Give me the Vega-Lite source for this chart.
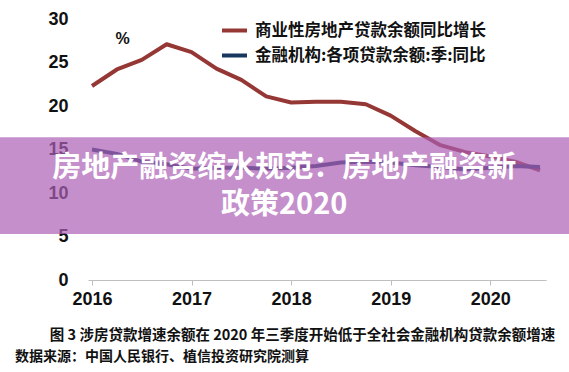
{
  "$schema": "https://vega.github.io/schema/vega-lite/v6.json",
  "width": 458,
  "height": 261,
  "autosize": {"type": "none"},
  "padding": {"left": 88, "top": 19, "right": 23, "bottom": 92},
  "background": "white",
  "config": {"view": {"stroke": null}, "font": "Liberation Sans"},
  "title": {
    "text": "数据来源：中国人民银行、植信投资研究院测算",
    "orient": "bottom",
    "anchor": "start",
    "frame": "group",
    "dx": -73,
    "offset": 8,
    "font": "Noto Sans CJK SC",
    "fontSize": 14,
    "fontWeight": "bold",
    "color": "#111111"
  },
  "layer": [
    {
      "data": {
        "values": [
          {"t": 2016.0, "s": "商业性房地产贷款余额同比增长", "v": 22.3},
          {"t": 2016.25, "s": "商业性房地产贷款余额同比增长", "v": 24.2},
          {"t": 2016.5, "s": "商业性房地产贷款余额同比增长", "v": 25.3},
          {"t": 2016.75, "s": "商业性房地产贷款余额同比增长", "v": 27.1},
          {"t": 2017.0, "s": "商业性房地产贷款余额同比增长", "v": 26.2},
          {"t": 2017.25, "s": "商业性房地产贷款余额同比增长", "v": 24.3},
          {"t": 2017.5, "s": "商业性房地产贷款余额同比增长", "v": 23.0},
          {"t": 2017.75, "s": "商业性房地产贷款余额同比增长", "v": 21.1},
          {"t": 2018.0, "s": "商业性房地产贷款余额同比增长", "v": 20.4},
          {"t": 2018.25, "s": "商业性房地产贷款余额同比增长", "v": 20.5},
          {"t": 2018.5, "s": "商业性房地产贷款余额同比增长", "v": 20.5},
          {"t": 2018.75, "s": "商业性房地产贷款余额同比增长", "v": 20.2},
          {"t": 2019.0, "s": "商业性房地产贷款余额同比增长", "v": 18.9},
          {"t": 2019.25, "s": "商业性房地产贷款余额同比增长", "v": 17.1},
          {"t": 2019.5, "s": "商业性房地产贷款余额同比增长", "v": 15.5},
          {"t": 2019.75, "s": "商业性房地产贷款余额同比增长", "v": 14.7},
          {"t": 2020.0, "s": "商业性房地产贷款余额同比增长", "v": 14.2},
          {"t": 2020.25, "s": "商业性房地产贷款余额同比增长", "v": 13.6},
          {"t": 2020.5, "s": "商业性房地产贷款余额同比增长", "v": 12.6},
          {"t": 2016.0, "s": "金融机构:各项贷款余额:季:同比", "v": 15.0},
          {"t": 2016.25, "s": "金融机构:各项贷款余额:季:同比", "v": 14.5},
          {"t": 2016.5, "s": "金融机构:各项贷款余额:季:同比", "v": 13.6},
          {"t": 2016.75, "s": "金融机构:各项贷款余额:季:同比", "v": 13.3},
          {"t": 2017.0, "s": "金融机构:各项贷款余额:季:同比", "v": 12.8},
          {"t": 2017.25, "s": "金融机构:各项贷款余额:季:同比", "v": 12.9},
          {"t": 2017.5, "s": "金融机构:各项贷款余额:季:同比", "v": 12.9},
          {"t": 2017.75, "s": "金融机构:各项贷款余额:季:同比", "v": 12.8},
          {"t": 2018.0, "s": "金融机构:各项贷款余额:季:同比", "v": 12.9},
          {"t": 2018.25, "s": "金融机构:各项贷款余额:季:同比", "v": 13.1},
          {"t": 2018.5, "s": "金融机构:各项贷款余额:季:同比", "v": 13.5},
          {"t": 2018.75, "s": "金融机构:各项贷款余额:季:同比", "v": 13.6},
          {"t": 2019.0, "s": "金融机构:各项贷款余额:季:同比", "v": 13.5},
          {"t": 2019.25, "s": "金融机构:各项贷款余额:季:同比", "v": 13.2},
          {"t": 2019.5, "s": "金融机构:各项贷款余额:季:同比", "v": 13.0},
          {"t": 2019.75, "s": "金融机构:各项贷款余额:季:同比", "v": 12.7},
          {"t": 2020.0, "s": "金融机构:各项贷款余额:季:同比", "v": 12.9},
          {"t": 2020.25, "s": "金融机构:各项贷款余额:季:同比", "v": 13.1},
          {"t": 2020.5, "s": "金融机构:各项贷款余额:季:同比", "v": 13.0}
        ]
      },
      "mark": {"type": "line", "strokeWidth": 4, "strokeJoin": "round"},
      "encoding": {
        "x": {
          "field": "t",
          "type": "quantitative",
          "scale": {"domain": [2015.96, 2020.56], "nice": false, "zero": false},
          "axis": {
            "values": [2016, 2017, 2018, 2019, 2020],
            "format": "d",
            "grid": false,
            "domainColor": "#bfbfbf",
            "tickColor": "#bfbfbf",
            "tickSize": 5,
            "labelFont": "Liberation Sans Narrow, Liberation Sans",
            "labelFontSize": 18,
            "labelFontWeight": "bold",
            "labelColor": "#111111",
            "labelPadding": 5,
            "title": "图 3 涉房贷款增速余额在 2020 年三季度开始低于全社会金融机构贷款余额增速",
            "titleX": 214,
            "titleY": 55,
            "titleAlign": "center",
            "titleBaseline": "middle",
            "titleFont": "Noto Sans CJK SC",
            "titleFontSize": 14.5,
            "titleFontWeight": "bold",
            "titleColor": "#111111"
          }
        },
        "y": {
          "field": "v",
          "type": "quantitative",
          "scale": {"domain": [0, 30], "nice": false},
          "axis": {
            "values": [0, 5, 10, 15, 20, 25, 30],
            "grid": false,
            "domain": false,
            "ticks": false,
            "labelPadding": 20,
            "labelFont": "Liberation Sans Narrow, Liberation Sans",
            "labelFontSize": 18,
            "labelFontWeight": "bold",
            "labelColor": "#111111",
            "title": "%",
            "titleAngle": 0,
            "titleX": 34,
            "titleY": 19,
            "titleAlign": "center",
            "titleBaseline": "middle",
            "titleFont": "Liberation Sans",
            "titleFontSize": 16,
            "titleFontWeight": "bold",
            "titleColor": "#111111"
          }
        },
        "color": {
          "field": "s",
          "type": "nominal",
          "scale": {
            "domain": ["商业性房地产贷款余额同比增长", "金融机构:各项贷款余额:季:同比"],
            "range": ["#953735", "#17375E"]
          },
          "legend": {
            "orient": "none",
            "legendX": 132,
            "legendY": -3,
            "title": null,
            "symbolType": "stroke",
            "symbolStrokeWidth": 4,
            "symbolSize": 625,
            "labelFont": "Noto Sans CJK SC",
            "labelFontSize": 16.5,
            "labelFontWeight": "bold",
            "labelColor": "#111111",
            "labelOffset": 6,
            "rowPadding": 2,
            "labelLimit": 400
          }
        },
        "order": {"field": "s", "sort": "descending"}
      }
    },
    {
      "data": {"values": [{}]},
      "mark": {"type": "rect", "color": "#AB60B5", "opacity": 0.7},
      "encoding": {
        "x": {"datum": 2015, "type": "quantitative"},
        "x2": {"datum": 2021},
        "y": {"datum": 5.3, "type": "quantitative"},
        "y2": {"datum": 16.4}
      }
    },
    {
      "data": {"values": [{}]},
      "mark": {
        "type": "text",
        "text": ["房地产融资缩水规范：房地产融资新", "政策2020"],
        "font": "Noto Sans CJK SC",
        "fontSize": 29,
        "fontWeight": "bold",
        "color": "white",
        "align": "center",
        "baseline": "middle",
        "lineHeight": 37
      },
      "encoding": {
        "x": {"datum": 2017.93, "type": "quantitative"},
        "y": {"datum": 12.9, "type": "quantitative"}
      }
    }
  ]
}
